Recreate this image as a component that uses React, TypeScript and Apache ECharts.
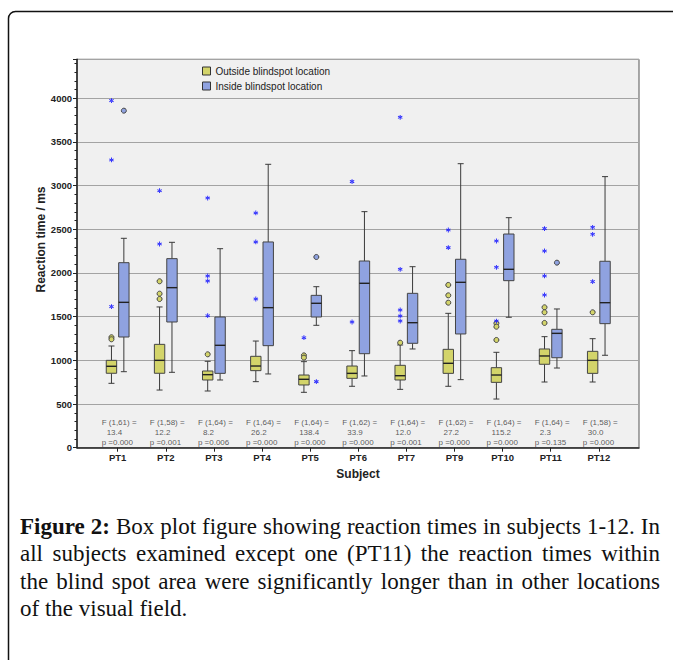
import React, { useEffect, useRef } from 'react';
import * as echarts from 'echarts';

const categories = ['PT1', 'PT2', 'PT3', 'PT4', 'PT5', 'PT6', 'PT7', 'PT9', 'PT10', 'PT11', 'PT12'];

// [lower whisker, Q1, median, Q3, upper whisker] in ms
const outsideBoxes = [
  [737, 852, 932, 1000, 1164],
  [660, 852, 1000, 1183, 1611],
  [649, 775, 836, 878, 989],
  [756, 882, 935, 1046, 1221],
  [634, 718, 783, 832, 985],
  [703, 794, 851, 935, 1111],
  [668, 775, 824, 943, 1176],
  [703, 851, 966, 1126, 1538],
  [557, 748, 832, 916, 1092],
  [752, 955, 1050, 1130, 1271],
  [752, 851, 1000, 1103, 1248],
];
const insideBoxes = [
  [870, 1267, 1664, 2118, 2397],
  [863, 1439, 1832, 2164, 2351],
  [775, 851, 1172, 1496, 2278],
  [844, 1168, 1603, 2355, 3244],
  [1401, 1496, 1653, 1744, 1843],
  [821, 1076, 1882, 2137, 2702],
  [1130, 1195, 1431, 1767, 2072],
  [779, 1302, 1893, 2157, 3251],
  [1493, 1912, 2042, 2446, 2633],
  [912, 1030, 1309, 1355, 1588],
  [1058, 1420, 1660, 2134, 3103],
];

// [category index, value]
const outsideOutliers = [
  [0, 1264], [0, 1241],
  [1, 1905], [1, 1763], [1, 1702],
  [2, 1069],
  [4, 1057], [4, 1031],
  [6, 1202],
  [7, 1863], [7, 1744], [7, 1660],
  [8, 1424], [8, 1385], [8, 1233],
  [9, 1607], [9, 1550], [9, 1428],
  [10, 1550],
];
const outsideExtremes = [
  [0, 3973], [0, 3294], [0, 1615],
  [1, 2942], [1, 2332],
  [2, 2858], [2, 1966], [2, 1908], [2, 1511],
  [3, 2687], [3, 2355], [3, 1702],
  [4, 1259],
  [5, 3046], [5, 1439],
  [6, 3782], [6, 2042], [6, 1576], [6, 1508], [6, 1450],
  [7, 2492], [7, 2290],
  [8, 2366], [8, 2065], [8, 1450],
  [9, 2508], [9, 2252], [9, 1966], [9, 1748],
  [10, 2523], [10, 2443], [10, 1901],
];
const insideOutliers = [
  [0, 3858],
  [4, 2183],
  [9, 2118],
];
const insideExtremes = [
  [4, 756],
];

const fTests = ['F (1,61) =', 'F (1,58) =', 'F (1,64) =', 'F (1,64) =', 'F (1,64) =', 'F (1,62) =', 'F (1,64) =', 'F (1,62) =', 'F (1,64) =', 'F (1,64) =', 'F (1,58) ='];
const fValues = ['13.4', '12.2', '8.2', '26.2', '138.4', '33.9', '12.0', '27.2', '115.2', '2.3', '30.0'];
const pValues = ['p =0.000', 'p =0.001', 'p =0.006', 'p =0.000', 'p =0.000', 'p =0.000', 'p =0.001', 'p =0.000', 'p =0.000', 'p =0.135', 'p =0.000'];

const yTicks = [0, 500, 1000, 1500, 2000, 2500, 3000, 3500, 4000];

const OUTSIDE_NAME = 'Outside blindspot location';
const INSIDE_NAME = 'Inside blindspot location';
const YELLOW = '#d3d46a';
const BLUE = '#8fa2e0';
const STAR = '#1f1fff';
const SANS = "'Liberation Sans', Arial, sans-serif";
const Y_MAX = 4446;
const ANNOT_Y = 343;
const BOX_DX = 6.2;

const STAR_PATH =
  'path://M4.1 0 H5.9 V10 H4.1 Z M8.8 8.2 L9.7 6.6 L1.2 1.8 L0.3 3.4 Z M0.3 6.6 L1.2 8.2 L9.7 3.4 L8.8 1.8 Z';

function makeBoxRenderer(dx: number, fill: string) {
  return (_params: any, api: any) => {
    const i = api.value(0);
    const low = api.coord([i, api.value(1)]);
    const q1 = api.coord([i, api.value(2)]);
    const med = api.coord([i, api.value(3)]);
    const q3 = api.coord([i, api.value(4)]);
    const high = api.coord([i, api.value(5)]);
    const cx = low[0] + dx;
    const hw = 5.2;
    const cap = 3;
    const stroke = '#3a3a3a';
    return {
      type: 'group',
      children: [
        { type: 'line', shape: { x1: cx, y1: high[1], x2: cx, y2: q3[1] }, style: { stroke, lineWidth: 1 } },
        { type: 'line', shape: { x1: cx, y1: q1[1], x2: cx, y2: low[1] }, style: { stroke, lineWidth: 1 } },
        { type: 'line', shape: { x1: cx - cap, y1: high[1], x2: cx + cap, y2: high[1] }, style: { stroke, lineWidth: 1 } },
        { type: 'line', shape: { x1: cx - cap, y1: low[1], x2: cx + cap, y2: low[1] }, style: { stroke, lineWidth: 1 } },
        {
          type: 'rect',
          shape: { x: cx - hw, y: q3[1], width: hw * 2, height: q1[1] - q3[1] },
          style: { fill, stroke: '#444', lineWidth: 1 },
        },
        { type: 'line', shape: { x1: cx - hw, y1: med[1], x2: cx + hw, y2: med[1] }, style: { stroke: '#222', lineWidth: 1.4 } },
      ],
    };
  };
}

export default function App() {
  const ref = useRef<HTMLDivElement>(null);

  useEffect(() => {
    if (!ref.current) return;
    const chart = echarts.init(ref.current, undefined, { renderer: 'svg' });

    const option: any = {
      animation: false,
      textStyle: { fontFamily: SANS },
      grid: [
        {
          left: 77,
          right: 34,
          top: 59.3,
          bottom: 212.3,
          show: true,
          backgroundColor: '#f0f0f0',
          borderColor: '#555',
          borderWidth: 1,
        },
        {
          left: 93.6,
          right: 50.1,
          top: 59.3,
          bottom: 212.3,
        },
      ],
      legend: {
        orient: 'vertical',
        left: 197,
        top: 61,
        itemWidth: 8,
        itemHeight: 8,
        itemGap: 5,
        icon: 'rect',
        data: [OUTSIDE_NAME, INSIDE_NAME],
        itemStyle: { borderColor: '#333', borderWidth: 1 },
        textStyle: { fontSize: 10, color: '#222', fontFamily: SANS, lineHeight: 10 },
      },
      xAxis: [
        {
          type: 'value',
          gridIndex: 0,
          min: 0,
          max: 1,
          name: 'Subject',
          nameLocation: 'middle',
          nameGap: 20,
          nameTextStyle: { fontSize: 12, fontWeight: 'bold', color: '#222', fontFamily: SANS },
          axisLine: { show: true, lineStyle: { color: '#222', width: 1.5 } },
          axisTick: { show: false },
          axisLabel: { show: false },
          splitLine: { show: false },
        },
        {
          type: 'category',
          gridIndex: 1,
          data: categories,
          boundaryGap: true,
          axisLine: { show: false },
          axisTick: { show: true, alignWithLabel: true, length: 4, lineStyle: { color: '#222', width: 1 } },
          axisLabel: { fontSize: 9.5, fontWeight: 'bold', color: '#222', margin: 5, fontFamily: SANS, interval: 0 },
          splitLine: { show: false },
        },
      ],
      yAxis: [
        {
          type: 'value',
          gridIndex: 0,
          min: 0,
          max: Y_MAX,
          interval: 500,
          axisLine: { show: true, lineStyle: { color: '#222', width: 1.5 } },
          axisTick: { show: true, length: 4, lineStyle: { color: '#222' } },
          minorTick: { show: true, splitNumber: 5, length: 2.5, lineStyle: { color: '#222' } },
          axisLabel: {
            fontSize: 9.5,
            fontWeight: 'bold',
            color: '#222',
            margin: 5,
            fontFamily: SANS,
            formatter: (v: number) => (yTicks.indexOf(v) >= 0 ? String(v) : ''),
          },
          splitLine: { show: true, lineStyle: { color: '#a3a3a3', width: 1 } },
        },
        {
          type: 'value',
          gridIndex: 1,
          min: 0,
          max: Y_MAX,
          show: false,
          splitLine: { show: false },
        },
      ],
      series: [
        {
          name: OUTSIDE_NAME,
          type: 'custom',
          xAxisIndex: 1,
          yAxisIndex: 1,
          itemStyle: { color: YELLOW },
          encode: { x: 0, y: [1, 2, 3, 4, 5] },
          data: outsideBoxes.map((b, i) => [i, ...b]),
          renderItem: makeBoxRenderer(-BOX_DX, YELLOW),
          z: 3,
        },
        {
          name: INSIDE_NAME,
          type: 'custom',
          xAxisIndex: 1,
          yAxisIndex: 1,
          itemStyle: { color: BLUE },
          encode: { x: 0, y: [1, 2, 3, 4, 5] },
          data: insideBoxes.map((b, i) => [i, ...b]),
          renderItem: makeBoxRenderer(BOX_DX, BLUE),
          z: 3,
        },
        {
          name: 'outside-outliers',
          type: 'scatter',
          xAxisIndex: 1,
          yAxisIndex: 1,
          symbol: 'circle',
          symbolSize: 5,
          symbolOffset: [-BOX_DX, 0],
          itemStyle: { color: YELLOW, borderColor: '#444', borderWidth: 1, opacity: 1 },
          data: outsideOutliers,
          z: 4,
        },
        {
          name: 'inside-outliers',
          type: 'scatter',
          xAxisIndex: 1,
          yAxisIndex: 1,
          symbol: 'circle',
          symbolSize: 5,
          symbolOffset: [BOX_DX, 0],
          itemStyle: { color: BLUE, borderColor: '#444', borderWidth: 1, opacity: 1 },
          data: insideOutliers,
          z: 4,
        },
        {
          name: 'outside-extremes',
          type: 'scatter',
          xAxisIndex: 1,
          yAxisIndex: 1,
          symbol: STAR_PATH,
          symbolSize: 4.8,
          symbolOffset: [-BOX_DX, 0],
          itemStyle: { color: STAR, opacity: 1 },
          data: outsideExtremes,
          z: 4,
        },
        {
          name: 'inside-extremes',
          type: 'scatter',
          xAxisIndex: 1,
          yAxisIndex: 1,
          symbol: STAR_PATH,
          symbolSize: 4.8,
          symbolOffset: [BOX_DX, 0],
          itemStyle: { color: STAR, opacity: 1 },
          data: insideExtremes,
          z: 4,
        },
        {
          name: 'stats',
          type: 'scatter',
          xAxisIndex: 1,
          yAxisIndex: 1,
          symbolSize: 1,
          itemStyle: { color: 'rgba(0,0,0,0)' },
          silent: true,
          data: categories.map((_c, i) => [i, ANNOT_Y]),
          label: {
            show: true,
            position: [-15.5, 0],
            align: 'left',
            verticalAlign: 'top',
            formatter: (p: any) =>
              `{a|${fTests[p.dataIndex]}}\n{b|${fValues[p.dataIndex]}}\n{a|${pValues[p.dataIndex]}}`,
            rich: {
              a: { fontSize: 8, lineHeight: 10, color: '#333', fontFamily: SANS },
              b: { fontSize: 8, lineHeight: 10, color: '#333', fontFamily: SANS, padding: [0, 0, 0, 5] },
            },
          },
          z: 4,
        },
      ],
      graphic: [
        {
          type: 'rect',
          silent: true,
          shape: { x: 8.5, y: 11.5, width: 720, height: 720, r: 7 },
          style: { fill: 'none', stroke: '#111', lineWidth: 1.5 },
          z: -10,
        },
        {
          type: 'text',
          x: 41,
          y: 239.5,
          rotation: Math.PI / 2,
          style: {
            text: 'Reaction time / ms',
            font: `bold 12px ${SANS}`,
            fill: '#222',
            align: 'center',
            verticalAlign: 'middle',
          },
        },
      ],
    };

    chart.setOption(option);
    return () => {
      chart.dispose();
    };
  }, []);

  const lineStyle: React.CSSProperties = {
    whiteSpace: 'nowrap',
    textAlign: 'justify',
    textAlignLast: 'justify' as any,
  };

  return (
    <div
      style={{
        position: 'absolute',
        left: 0,
        top: 0,
        width: 673,
        height: 660,
        overflow: 'hidden',
        background: '#fff',
      }}
    >
      <div ref={ref} style={{ position: 'absolute', left: 0, top: 0, width: 673, height: 660 }} />
      <div
        style={{
          position: 'absolute',
          left: 20,
          top: 512.5,
          width: 640,
          fontFamily: "'Liberation Serif', 'Times New Roman', serif",
          fontSize: 23,
          lineHeight: '27.6px',
          color: '#111',
        }}
      >
        <div style={lineStyle}>
          <b>Figure 2:</b> Box plot figure showing reaction times in subjects 1-12. In
        </div>
        <div style={lineStyle}>all subjects examined except one (PT11) the reaction times within</div>
        <div style={lineStyle}>the blind spot area were significantly longer than in other locations</div>
        <div style={{ whiteSpace: 'nowrap' }}>of the visual field.</div>
      </div>
    </div>
  );
}
